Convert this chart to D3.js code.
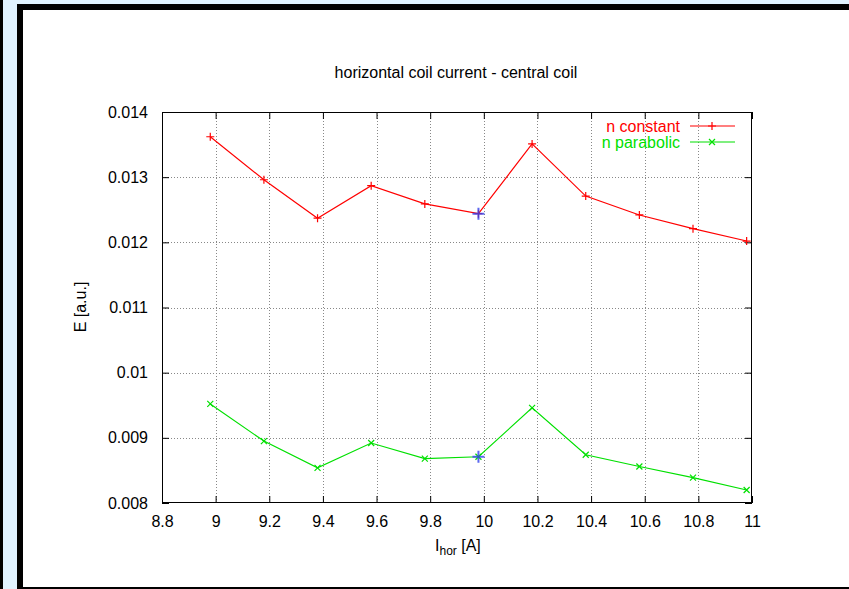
<!DOCTYPE html>
<html>
<head>
<meta charset="utf-8">
<script src="https://cdn.jsdelivr.net/npm/d3@7"></script>
<style>
  body { margin: 0; background: #fff; }
  svg { display: block; font-family: "Liberation Sans", Arial, sans-serif; }
</style>
</head>
<body>
<svg id="chart" width="849" height="589"></svg>
<script>
// coil current values [A]
const current = [8.98, 9.18, 9.38, 9.58, 9.78, 9.98, 10.18, 10.38, 10.58, 10.78, 10.98];
const nConstant = [0.01362, 0.01296, 0.01237, 0.01287, 0.01259, 0.01244, 0.01351, 0.01271, 0.01242, 0.01221, 0.01202];
const nParabolic = [0.00952, 0.00895, 0.00854, 0.00892, 0.00868, 0.00871, 0.00946, 0.00874, 0.00856, 0.00839, 0.00820];
// highlighted point (blue cross)
const highlightX = 9.98;
const xTicks = [8.8, 9, 9.2, 9.4, 9.6, 9.8, 10, 10.2, 10.4, 10.6, 10.8, 11];
const yTicks = [0.008, 0.009, 0.01, 0.011, 0.012, 0.013, 0.014];

const svg = d3.select("#chart");

// frame decoration around the picture
svg.append("rect").attr("x", 0).attr("y", 0).attr("width", 849).attr("height", 589).attr("fill", "#e0f2ff");
svg.append("rect").attr("x", 0).attr("y", 0).attr("width", 3).attr("height", 589).attr("fill", "#000");
svg.append("rect").attr("x", 17).attr("y", 4).attr("width", 832).attr("height", 585).attr("fill", "#000");
svg.append("rect").attr("x", 23).attr("y", 10).attr("width", 826).attr("height", 577).attr("fill", "#fff");

const plot = {left: 162, right: 752, top: 112, bottom: 503};

const x = d3.scaleLinear().domain([8.8, 11]).range([plot.left, plot.right]);
const y = d3.scaleLinear().domain([0.008, 0.014]).range([plot.bottom, plot.top]);

// grid
const grid = svg.append("g").attr("stroke", "#888").attr("stroke-width", 1).attr("stroke-dasharray", "1,2");
grid.selectAll("line.vx").data(xTicks.slice(1, -1)).enter().append("line")
  .attr("x1", d => Math.round(x(d)) + 0.5).attr("x2", d => Math.round(x(d)) + 0.5)
  .attr("y1", plot.top).attr("y2", plot.bottom);
grid.selectAll("line.hy").data(yTicks.slice(1, -1)).enter().append("line")
  .attr("y1", d => Math.round(y(d)) + 0.5).attr("y2", d => Math.round(y(d)) + 0.5)
  .attr("x1", plot.left).attr("x2", plot.right);

// axes with inward ticks (mirrored)
const fmtX = d => String(+d.toFixed(1));
const axB = svg.append("g").attr("transform", `translate(0,${plot.bottom})`)
  .call(d3.axisBottom(x).tickValues(xTicks).tickSize(-7).tickPadding(13).tickFormat(fmtX));
const axT = svg.append("g").attr("transform", `translate(0,${plot.top})`)
  .call(d3.axisTop(x).tickValues(xTicks).tickSize(-7).tickFormat(""));
const axL = svg.append("g").attr("transform", `translate(${plot.left},0)`)
  .call(d3.axisLeft(y).tickValues(yTicks).tickSize(-7).tickPadding(14).tickFormat(d => String(+d.toFixed(3))));
const axR = svg.append("g").attr("transform", `translate(${plot.right},0)`)
  .call(d3.axisRight(y).tickValues(yTicks).tickSize(-7).tickFormat(""));
[axB, axT, axL, axR].forEach(a => {
  a.select(".domain").remove();
  a.selectAll("line").attr("stroke", "#000");
  a.selectAll("text").attr("font-size", 16).attr("fill", "#000").attr("font-family", "Liberation Sans, Arial, sans-serif");
});

svg.append("rect").attr("x", plot.left + 0.5).attr("y", plot.top + 0.5)
  .attr("width", plot.right - plot.left - 1).attr("height", plot.bottom - plot.top - 1)
  .attr("fill", "none").attr("stroke", "#000");

// series
const series = [
  {name: "n constant", values: nConstant, color: "#ff0000", marker: "plus"},
  {name: "n parabolic", values: nParabolic, color: "#00e000", marker: "cross"}
];
const line = d3.line().x(d => x(d[0])).y(d => y(d[1]));
const markerPath = (type, s) => type === "plus"
  ? `M${-s},0H${s}M0,${-s}V${s}`
  : `M${-s},${-s}L${s},${s}M${-s},${s}L${s},${-s}`;

series.forEach(s => {
  const pts = current.map((c, i) => [c, s.values[i]]);
  svg.append("path").datum(pts).attr("d", line)
    .attr("fill", "none").attr("stroke", s.color).attr("stroke-width", 1.2);
  svg.selectAll(null).data(pts).enter().append("path")
    .attr("transform", d => `translate(${x(d[0])},${y(d[1])})`)
    .attr("d", markerPath(s.marker, s.marker === "plus" ? 4 : 3))
    .attr("stroke", s.color).attr("stroke-width", 1.2);
  // blue highlight marker
  const hi = current.indexOf(highlightX);
  svg.append("path")
    .attr("transform", `translate(${x(highlightX)},${y(s.values[hi])})`)
    .attr("d", markerPath("plus", 6))
    .attr("stroke", "#3344ee").attr("stroke-opacity", 0.8).attr("stroke-width", 2);
});

// legend
series.forEach((s, i) => {
  const ly = 126 + i * 16;
  svg.append("text").attr("x", 680).attr("y", ly + 6).attr("text-anchor", "end")
    .attr("font-size", 16).attr("fill", s.color).text(s.name);
  svg.append("line").attr("x1", 690).attr("x2", 735).attr("y1", ly).attr("y2", ly)
    .attr("stroke", s.color).attr("stroke-width", 1.2);
  svg.append("path").attr("transform", `translate(712,${ly})`)
    .attr("d", markerPath(s.marker, s.marker === "plus" ? 4 : 3))
    .attr("stroke", s.color).attr("stroke-width", 1.2);
});

// titles
svg.append("text").attr("x", 456).attr("y", 78).attr("text-anchor", "middle")
  .attr("font-size", 16).text("horizontal coil current - central coil");
svg.append("text").attr("transform", "translate(86,307) rotate(-90)").attr("text-anchor", "middle")
  .attr("font-size", 16).text("E [a.u.]");
const xl = svg.append("text").attr("x", 435).attr("y", 551).attr("font-size", 16);
xl.append("tspan").text("I");
xl.append("tspan").attr("dy", 4).attr("font-size", 12).text("hor");
xl.append("tspan").attr("dy", -4).text(" [A]");
</script>
</body>
</html>
